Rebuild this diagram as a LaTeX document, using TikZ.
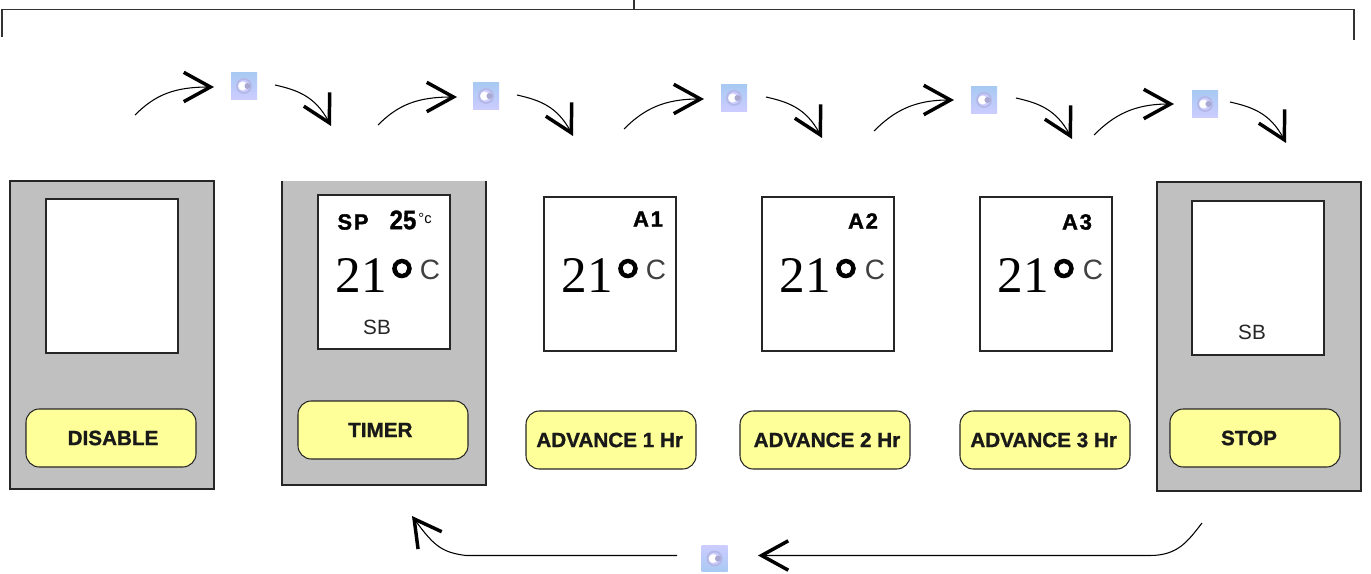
\documentclass[tikz,border=0pt]{standalone}
\usepackage{fontspec}
\setmainfont{Liberation Sans}
\newfontfamily\spacedfont[LetterSpace=8,FakeBold=1.5]{Liberation Sans Bold}
\newfontfamily\heavyfont[FakeBold=1.2]{Liberation Sans Bold}
\newfontfamily\serifdigits{Liberation Serif}
\newfontfamily\degfont[FakeBold=1.6]{Liberation Serif Bold}
\usetikzlibrary{arrows.meta}
\definecolor{panelgray}{HTML}{C0C0C0}
\definecolor{btnyellow}{HTML}{FFFF99}
\definecolor{brk}{HTML}{333333}
\definecolor{iconblue}{HTML}{A8CAF2}
\definecolor{iconlav}{HTML}{CCCCFF}
\definecolor{iconring}{HTML}{B4B8E6}
\definecolor{iconcore}{HTML}{A8A8D0}
\tikzset{
  panelbox/.style={fill=panelgray,draw=black!85,line width=1.1pt,minimum width=153pt,inner sep=0pt,outer sep=0pt},
  screenbox/.style={fill=white,draw=black!85,line width=1pt,minimum width=99pt,minimum height=115.5pt,inner sep=0pt,outer sep=0pt},
  btnbox/.style={fill=btnyellow,draw=black!85,line width=.8pt,rounded corners=10pt,minimum width=127.5pt,minimum height=43.5pt,inner sep=0pt,outer sep=0pt,
    font=\fontsize{15.5pt}{16pt}\selectfont\heavyfont,text=black!90},
  iconbox/.style={minimum width=19.5pt,minimum height=20pt,inner sep=0pt,outer sep=0pt,shading=axis,shading angle=35,
    path picture={
      \fill[iconring] (path picture bounding box.center) circle (8);
      \fill[iconlav] (path picture bounding box.center) circle (6);
      \fill[white] ([xshift=-1pt]path picture bounding box.center) circle (4.5);
      \fill[iconcore] ([xshift=2.6pt]path picture bounding box.center) circle (3);
    }},
  iconA/.style={iconbox,top color=iconblue,bottom color=iconlav},
  iconB/.style={iconbox,top color=iconlav,bottom color=iconblue},
  flowarc/.style={line width=.8pt,draw=black,-{Straight Barb[length=20pt,width=22pt,line width=2.6pt]}},
  brack/.style={draw=brk,line width=1.2pt},
  bigtemp/.style={anchor=base,inner sep=0pt,font=\fontsize{38.5pt}{39pt}\selectfont\serifdigits},
  degmark/.style={anchor=base,inner sep=0pt,font=\fontsize{46pt}{46pt}\selectfont\degfont},
  unitc/.style={anchor=center,inner sep=0pt,text=black!75,font=\fontsize{21pt}{22pt}\selectfont},
  sbtext/.style={anchor=center,inner sep=0pt,text=black!85,font=\fontsize{15.5pt}{16pt}\selectfont},
  modetext/.style={anchor=center,inner sep=0pt,font=\fontsize{16.5pt}{17pt}\selectfont\spacedfont},
}
% name, x of digits, x of degree, x of C
\newcommand{\readout}[4]{%
  \node[bigtemp] (#1t) at (#2,292) {21};
  \node[degmark] (#1d) at (#3,300) {°};
  \node[unitc] (#1c) at (#4,270) {C};
}
% number, up-start, up-tip, down-start, down-tip
\newcommand{\flowstep}[9]{%
  \coordinate (us#1) at (#2,#3);
  \coordinate (ut#1) at (#4,#5);
  \coordinate (ds#1) at (#6,#7);
  \coordinate (dt#1) at (#8,#9);
  \draw[flowarc] (us#1) .. controls +(20,-20) and +(-40,0) .. (ut#1);
  \draw[flowarc] (ds#1) .. controls +(22,5) and +(-16,-30) .. (dt#1);
}
\begin{document}
\begin{tikzpicture}[x=.75pt,y=-.75pt]
\useasboundingbox (0,0) rectangle (1371,574);

% top bracket
\coordinate (bl) at (2,37);
\coordinate (br) at (1354,40);
\coordinate (bm) at (634,9.5);
\coordinate (bt) at (634,0);
\draw[brack] (bl) |- (bm) -| (br);
\draw[brack] (bt) -- (bm);

% panels
\node[panelbox,minimum height=231pt] (p1) at (112,335) {};
\node[panelbox,draw=none,minimum height=228pt] (p2) at (384,333) {};
\draw[black!85,line width=1.1pt] (p2.north west) -- (p2.south west) -- (p2.south east) -- (p2.north east);
\node[panelbox,minimum height=231.75pt] (p3) at (1259,336.5) {};

% screens
\node[screenbox] (s1) at (112,276) {};
\node[screenbox] (s2) at (384,272) {};
\node[screenbox] (s3) at (610,274) {};
\node[screenbox] (s4) at (828,274) {};
\node[screenbox] (s5) at (1046,274) {};
\node[screenbox] (s6) at (1258,278) {};

% buttons
\node[btnbox] (b1) at (111,438) {\hspace*{3pt}DISABLE};
\node[btnbox] (b2) at (383,430) {TIMER\hspace*{4pt}};
\node[btnbox] (b3) at (611,440) {ADVANCE 1 Hr\hspace*{2pt}};
\node[btnbox] (b4) at (825,440) {\hspace*{3pt}ADVANCE 2 Hr};
\node[btnbox] (b5) at (1045,440) {ADVANCE 3 Hr\hspace*{2pt}};
\node[btnbox] (b6) at (1255,438) {STOP\hspace*{9pt}};

% screen contents
\node[modetext] (sp) at (353,222) {SP};
\node[anchor=center,inner sep=0pt,xscale=.9,font=\fontsize{20pt}{21pt}\selectfont\heavyfont] (sv) at (403,220) {25};
\node[anchor=center,inner sep=0pt,font=\fontsize{11pt}{12pt}\selectfont] (su) at (425,218) {°c};
\readout{r2}{361}{402}{430}
\node[sbtext] (sb2) at (377,327) {SB};
\node[modetext] (a1) at (648,219) {A1};
\readout{r3}{587}{628}{656}
\node[modetext] (a2) at (863,221) {A2};
\readout{r4}{805}{846}{875}
\node[modetext] (a3) at (1077,222) {A3};
\readout{r5}{1023}{1064}{1093}
\node[sbtext] (sb6) at (1252,332) {SB};

% icons
\node[iconA] (i1) at (244,86) {};
\node[iconA] (i2) at (486,96) {};
\node[iconA] (i3) at (734,98) {};
\node[iconA] (i4) at (984,100) {};
\node[iconA] (i5) at (1205,104) {};
\node[iconB] (i6) at (714.5,558.5) {};

% arrows
\flowstep{1}{135}{115}{214}{87}{275}{85}{331}{126}
\flowstep{2}{378}{125}{457}{97}{517}{95}{573}{136}
\flowstep{3}{624}{129}{704}{99}{766}{97}{822}{138}
\flowstep{4}{874}{131}{954}{100}{1016}{98}{1072}{139}
\flowstep{5}{1094}{135}{1174}{104}{1230}{102}{1286}{143}

% return path
\coordinate (rs) at (1202,523);
\coordinate (rm) at (1150,555.5);
\coordinate (re) at (758,555.5);
\coordinate (ls) at (677,555.5);
\coordinate (lm) at (466,555.5);
\coordinate (le) at (412,516);
\draw[flowarc] (rs) .. controls +(-14,18) and +(28,0) .. (rm) -- (re);
\draw[flowarc] (ls) -- (lm) .. controls +(-24,-3) and +(22,30) .. (le);
\end{tikzpicture}
\end{document}
